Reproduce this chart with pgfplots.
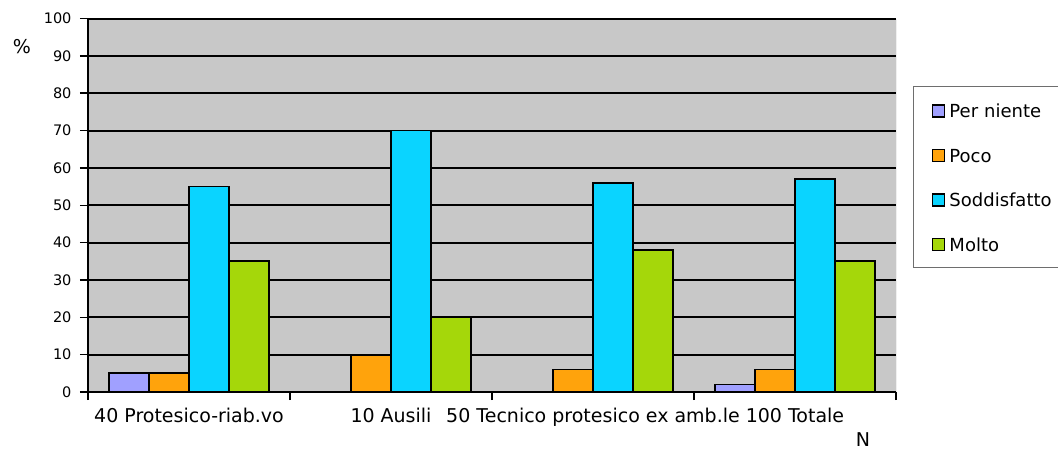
\documentclass[border=0pt]{standalone}
\usepackage{pgfplots}
\pgfplotsset{compat=1.18}
\usepackage{fontspec}
\setmainfont{DejaVu Sans}
\definecolor{plotbg}{RGB}{200,200,200}
\definecolor{perniente}{RGB}{160,160,255}
\definecolor{poco}{RGB}{255,163,12}
\definecolor{soddisfatto}{RGB}{10,212,255}
\definecolor{molto}{RGB}{165,215,10}
\definecolor{legframe}{RGB}{110,110,110}
\begin{document}
\begin{tikzpicture}
\useasboundingbox (0pt,0pt) rectangle (1058pt,451pt);
\begin{axis}[
    at={(88pt,59pt)}, anchor=south west,
    scale only axis, width=808pt, height=373.5pt,
    ybar=0pt, bar width=0.198,
    xmin=-0.5, xmax=3.5, ymin=0, ymax=100,
    ytick={0,10,...,100},
    xtick={-0.5,0.5,1.5,2.5,3.5},
    xticklabels={40 Protesico-riab.vo, 10 Ausili, 50 Tecnico protesico ex amb.le, 100 Totale, {}},
    xticklabel style={xshift=101pt, yshift=-5pt, font=\fontsize{19}{22}\selectfont},
    yticklabel style={xshift=-5pt, font=\fontsize{14.5}{17}\selectfont},
    /pgf/number format/assume math mode=true,
    axis x line*=bottom, axis y line*=left,
    axis line style={black, line width=2pt},
    tick align=outside, major tick length=8pt,
    tick style={black, line width=1.5pt},
    ymajorgrids, major grid style={black, line width=2pt},
    axis background/.style={fill=plotbg},
    every axis plot/.append style={draw=black, line width=1.8pt},
    xlabel={N}, ylabel={\%},
    every axis x label/.style={at={(axis description cs:0.959,-0.1285)}, anchor=center, font=\fontsize{19}{22}\selectfont},
    every axis y label/.style={at={(axis description cs:-0.0817,0.9237)}, anchor=center, font=\fontsize{19}{22}\selectfont},
    legend cell align=left,
    legend image code/.code={\draw[#1, draw=black, line width=1.5pt] (0pt,-6.5pt) rectangle (12pt,5.5pt);},
    legend style={at={(axis description cs:1.021,0.819)}, anchor=north west,
        draw=legframe, line width=1pt, fill=white,
        font=\fontsize{18}{21}\selectfont,
        inner xsep=18.5pt, inner ysep=13pt, row sep=23pt, column sep=2pt,
        /tikz/every even column/.append style={text width=125pt, text height=16pt, text depth=3pt, inner xsep=2pt, inner ysep=0pt}},
]
\addplot[fill=perniente] coordinates {(0,5) (1,0) (2,0) (3,2)};
\addplot[fill=poco] coordinates {(0,5) (1,10) (2,6) (3,6)};
\addplot[fill=soddisfatto] coordinates {(0,55) (1,70) (2,56) (3,57)};
\addplot[fill=molto] coordinates {(0,35) (1,20) (2,38) (3,35)};
\legend{Per niente, Poco, Soddisfatto, Molto}
\draw[gray, line width=1pt] (rel axis cs:1,0) -- (rel axis cs:1,1);
\end{axis}
\end{tikzpicture}
\end{document}
